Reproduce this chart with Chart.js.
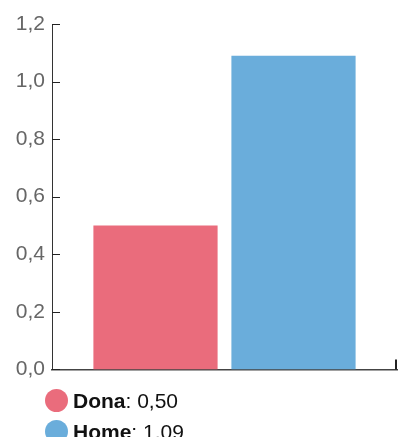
<!DOCTYPE html>
<html>
<head>
<meta charset="utf-8">
<script src="https://cdn.jsdelivr.net/npm/chart.js@4.4.1/dist/chart.umd.min.js"></script>
<style>
  html, body { margin: 0; padding: 0; background: #fff; width: 398px; height: 437px; overflow: hidden; }
  #wrap { position: absolute; left: 0; top: 0; width: 398px; height: 389px; }
  #legend { position: absolute; left: 45px; top: 385px; font-family: "Liberation Sans", Arial, sans-serif; font-size: 21px; color: #111; }
  .item { height: 31px; display: flex; align-items: center; white-space: nowrap; }
  .dot { width: 23px; height: 23px; border-radius: 50%; margin-right: 5px; flex: none; }
  .item b { font-weight: bold; }
</style>
</head>
<body>
<div id="wrap"><canvas id="c"></canvas></div>
<div id="legend"></div>
<script>
const seriesNames = ["Dona", "Home"];
const seriesValues = [0.50, 1.09];
const seriesColors = ["#ea6c7c", "#6aaddb"];
const categories = [""];
const yTicks = [0, 0.2, 0.4, 0.6, 0.8, 1.0, 1.2];

const fmt = v => v.toFixed(2).replace('.', ',');

const tickPlugin = {
  id: 'innerTicks',
  afterDraw(chart) {
    const ctx = chart.ctx;
    const ys = chart.scales.y;
    const area = chart.chartArea;
    ctx.save();
    ctx.strokeStyle = '#222';
    ctx.lineWidth = 1;
    ys.ticks.forEach(t => {
      const y = Math.round(ys.getPixelForValue(t.value)) + 0.5;
      ctx.beginPath();
      ctx.moveTo(area.left, y);
      ctx.lineTo(area.left + 8, y);
      ctx.stroke();
    });
    ctx.lineWidth = 2;
    const xr = area.right - 1;
    ctx.beginPath();
    ctx.moveTo(xr, area.bottom);
    ctx.lineTo(xr, area.bottom - 10);
    ctx.stroke();
    ctx.restore();
  }
};

new Chart(document.getElementById('c'), {
  type: 'bar',
  data: {
    labels: categories,
    datasets: seriesNames.map((n, i) => ({
      label: n,
      data: [seriesValues[i]],
      backgroundColor: seriesColors[i],
      borderWidth: 0,
      categoryPercentage: 0.8,
      barPercentage: 0.9
    }))
  },
  options: {
    responsive: true,
    maintainAspectRatio: false,
    animation: false,
    layout: { padding: { top: 24, right: 1, bottom: 3, left: 0 } },
    plugins: { legend: { display: false }, tooltip: { enabled: false } },
    scales: {
      y: {
        min: 0, max: 1.2,
        afterBuildTicks: s => { s.ticks = yTicks.map(v => ({ value: v })); },
        afterFit: s => { s.width = 52; },
        grid: { display: false, drawTicks: false },
        border: { display: true, color: '#333', width: 1 },
        ticks: {
          padding: 7,
          color: '#666',
          font: { family: "'Liberation Sans', Arial, sans-serif", size: 21 },
          callback: v => v.toFixed(1).replace('.', ',')
        }
      },
      x: {
        afterFit: s => { s.height = 0; },
        grid: { display: false, drawTicks: false },
        border: { display: true, color: '#444', width: 1.5 },
        ticks: { display: false }
      }
    }
  },
  plugins: [tickPlugin]
});

const leg = document.getElementById('legend');
seriesNames.forEach((n, i) => {
  const d = document.createElement('div');
  d.className = 'item';
  d.innerHTML = '<span class="dot" style="background:' + seriesColors[i] + '"></span><b>' + n + '</b>: ' + fmt(seriesValues[i]);
  leg.appendChild(d);
});
</script>
</body>
</html>
